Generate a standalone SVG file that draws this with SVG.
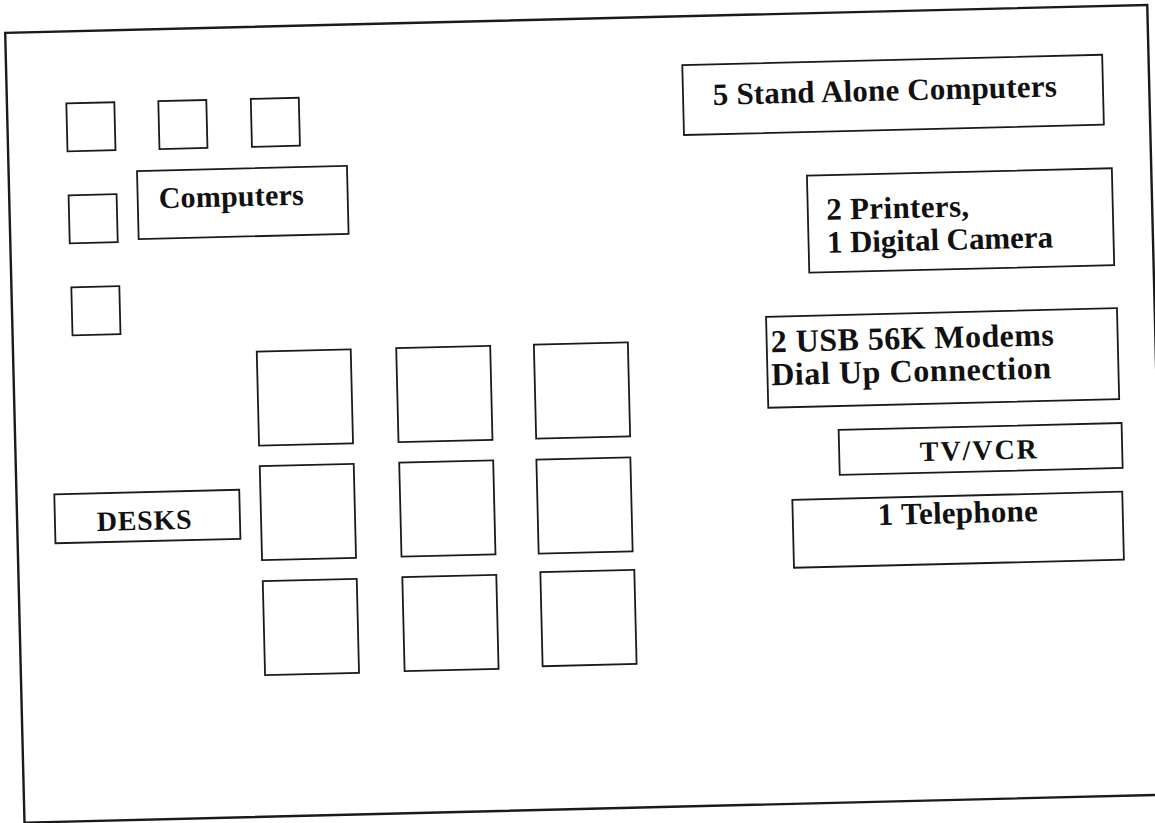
<svg xmlns="http://www.w3.org/2000/svg" width="1155" height="823" viewBox="0 0 1155 823">
<style>
.box{fill:none;stroke:#1a1a1a;stroke-width:1.8}
.frame{fill:none;stroke:#1a1a1a;stroke-width:2.4}
.lbl{font-family:"Liberation Serif","Times New Roman",serif;font-weight:bold;font-size:31px;fill:#111}
</style>
<rect width="1155" height="823" fill="#fff"/>
<g transform="rotate(-1.4 577 411)">
<rect id="room" class="frame" x="14.6" y="19" width="1142.4" height="790"/>
<g id="pc1"><rect class="box" x="74" y="91" width="48" height="48"/></g>
<g id="pc2"><rect class="box" x="166" y="91" width="48" height="48"/></g>
<g id="pc3"><rect class="box" x="258.5" y="91" width="48" height="48"/></g>
<g id="pc4"><rect class="box" x="74" y="183" width="48" height="48"/></g>
<g id="pc5"><rect class="box" x="74.5" y="275" width="48" height="48"/></g>
<g id="computers-label"><rect class="box" x="143" y="160.4" width="210" height="68"/><text class="lbl" x="164" y="198" style="font-size:30px" textLength="145">Computers</text></g>
<g id="standalone"><rect class="box" x="690.7" y="67.7" width="420" height="70"/><text class="lbl" x="720.5" y="108.3" textLength="344">5 Stand Alone Computers</text></g>
<g id="printers"><rect class="box" x="812.6" y="181.4" width="305" height="97"/><text class="lbl" x="831" y="226" textLength="143">2 Printers,</text><text class="lbl" x="831" y="259" textLength="226">1 Digital Camera</text></g>
<g id="modems"><rect class="box" x="768.3" y="321.4" width="351" height="91"/><text class="lbl" x="772.5" y="357" style="font-size:32px" textLength="283">2 USB 56K Modems</text><text class="lbl" x="772" y="390" style="font-size:32px" textLength="280">Dial Up Connection</text></g>
<g id="tvvcr"><rect class="box" x="838.1" y="436.3" width="283" height="45"/><text class="lbl" x="918.8" y="469.4" style="font-size:28px" textLength="117">TV/VCR</text></g>
<g id="telephone"><rect class="box" x="790.1" y="505" width="330" height="68"/><text class="lbl" x="875.2" y="532.3" textLength="160">1 Telephone</text></g>
<g id="desks-label"><rect class="box" x="52.4" y="481.5" width="185" height="49"/><text class="lbl" x="94.1" y="519.3" style="font-size:28px" textLength="95">DESKS</text></g>
<g id="desk-r1c1"><rect class="box" x="258.3" y="343.8" width="94" height="94"/></g>
<g id="desk-r1c2"><rect class="box" x="397.8" y="343.8" width="94" height="94"/></g>
<g id="desk-r1c3"><rect class="box" x="535.5" y="343.6" width="94" height="94"/></g>
<g id="desk-r2c1"><rect class="box" x="258.5" y="458.4" width="94" height="94"/></g>
<g id="desk-r2c2"><rect class="box" x="398" y="458.3" width="94" height="94"/></g>
<g id="desk-r2c3"><rect class="box" x="535.2" y="458.7" width="94" height="94"/></g>
<g id="desk-r3c1"><rect class="box" x="258.7" y="573.5" width="94" height="94"/></g>
<g id="desk-r3c2"><rect class="box" x="398.3" y="572.9" width="94" height="94"/></g>
<g id="desk-r3c3"><rect class="box" x="536.4" y="571.3" width="94" height="94"/></g>
</g>
<g id="connectors"/>
</svg>
